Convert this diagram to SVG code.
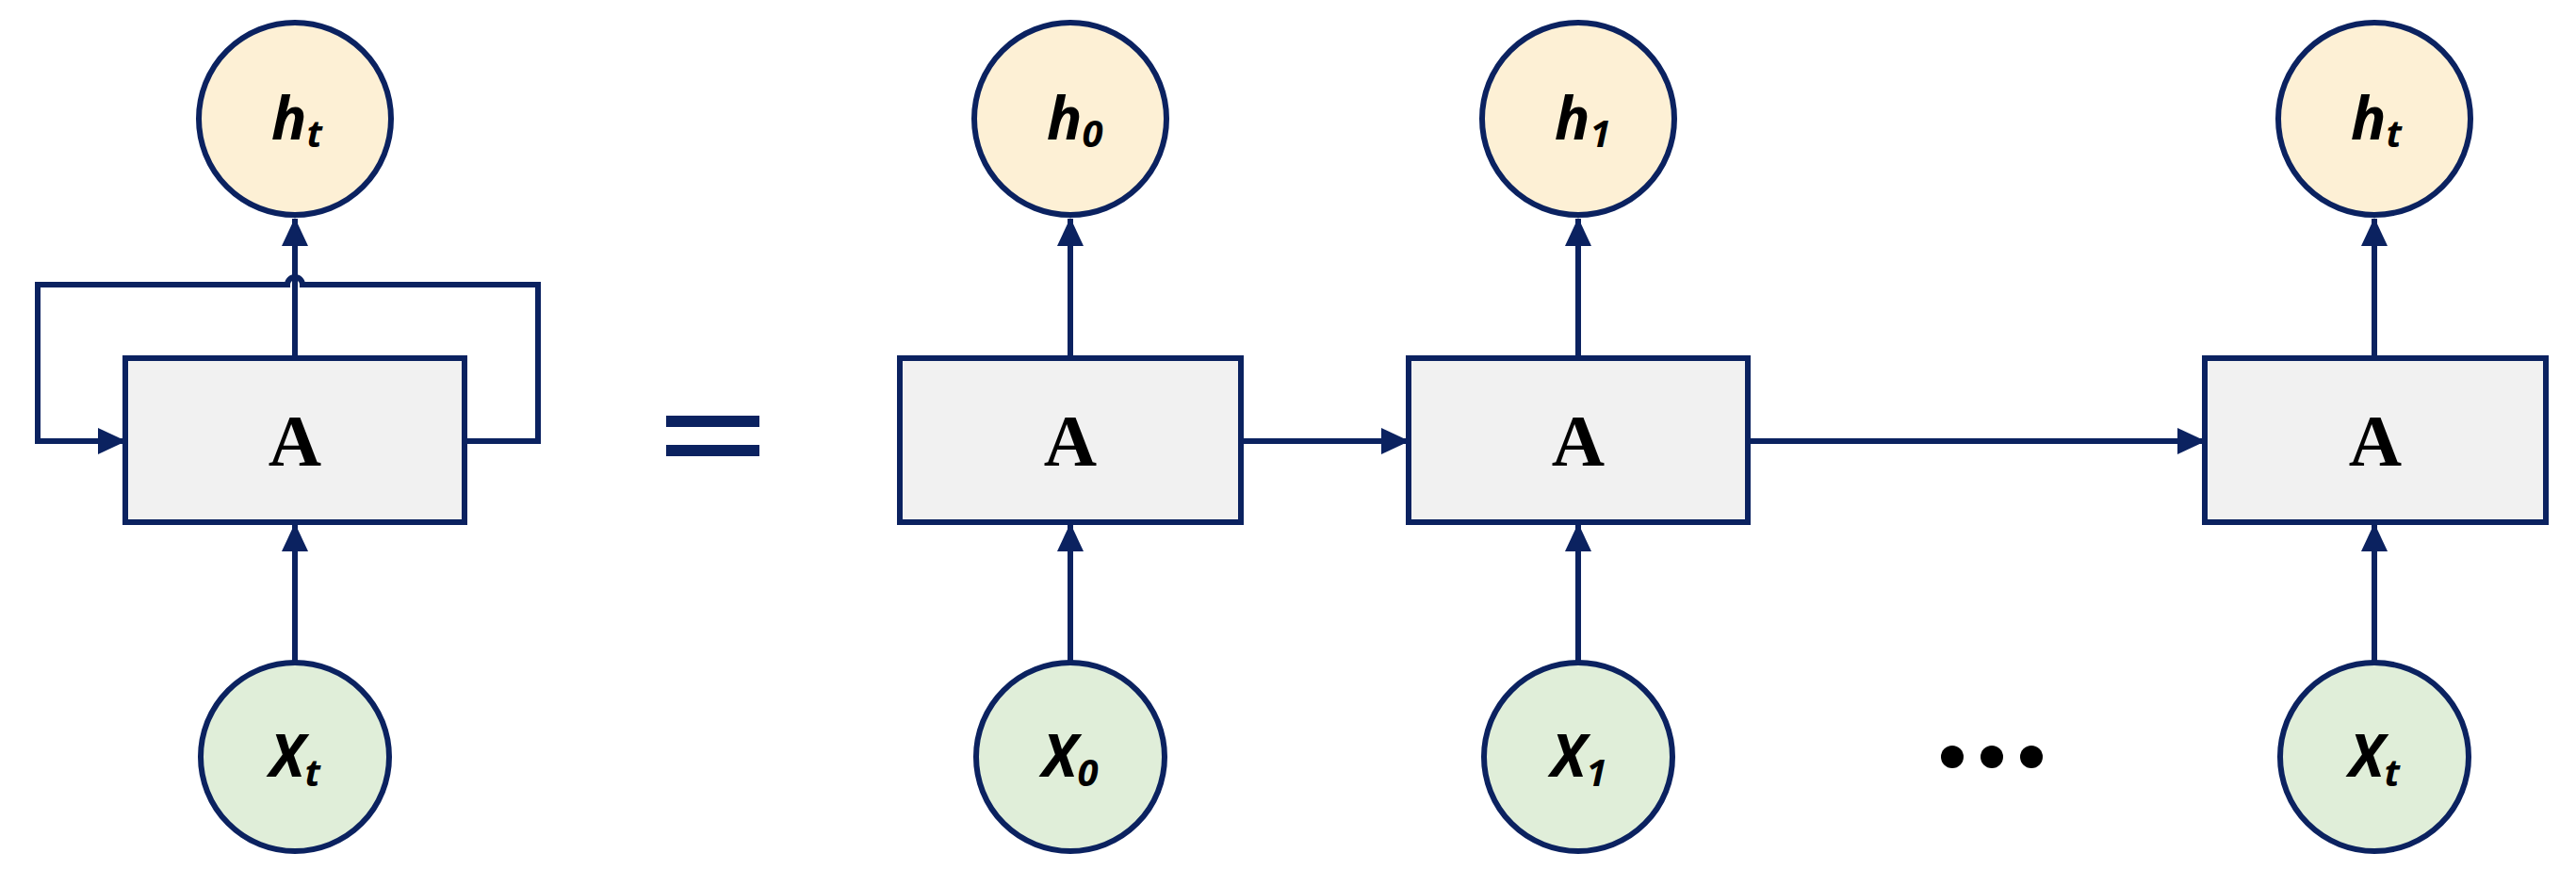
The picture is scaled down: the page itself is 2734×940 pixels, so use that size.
<svg xmlns="http://www.w3.org/2000/svg" width="2734" height="940" viewBox="0 0 2734 940">
<style>
.ln{stroke:#0b2260;stroke-width:6;fill:none}
.h{fill:#fdf0d5;stroke:#0b2260;stroke-width:6}
.x{fill:#e0eed9;stroke:#0b2260;stroke-width:6}
.b{fill:#f1f1f1;stroke:#0b2260;stroke-width:6}
.lab{font-family:"Open Sans","DejaVu Sans",sans-serif;font-weight:bold;font-style:italic;font-size:62px;fill:#000}
.sub{font-size:40px}
.A{font-family:"Liberation Serif",serif;font-weight:bold;font-size:78px;fill:#000;text-anchor:middle}
</style>
<defs>
<marker id="a" viewBox="0 0 30 28" refX="29" refY="14" markerWidth="30" markerHeight="28" markerUnits="userSpaceOnUse" orient="auto"><path d="M0,0 L30,14 L0,28 z" fill="#0b2260"/></marker></defs>
<g id="connectors">
<path class="ln" d="M313,380 V232" marker-end="url(#a)"/>
<path class="ln" d="M493,468 H571 V302 H321 A8,8 0 0 0 305,302 H40 V468 H133" marker-end="url(#a)"/>
<path class="ln" d="M313,703 V556" marker-end="url(#a)"/>
<path class="ln" d="M1136,380 V232" marker-end="url(#a)"/>
<path class="ln" d="M1136,703 V556" marker-end="url(#a)"/>
<path class="ln" d="M1675,380 V232" marker-end="url(#a)"/>
<path class="ln" d="M1675,703 V556" marker-end="url(#a)"/>
<path class="ln" d="M2520,380 V232" marker-end="url(#a)"/>
<path class="ln" d="M2520,703 V556" marker-end="url(#a)"/>
<path class="ln" d="M1319,468 H1495" marker-end="url(#a)"/>
<path class="ln" d="M1855,468 H2340" marker-end="url(#a)"/>
</g>
<g id="eq"><rect x="707" y="441" width="99" height="12" fill="#0b2260"/><rect x="707" y="472" width="99" height="12" fill="#0b2260"/></g>
<g id="dots" fill="#000"><circle cx="2072" cy="803" r="12"/><circle cx="2114" cy="803" r="12"/><circle cx="2156" cy="803" r="12"/></g>
<g id="ht0"><circle class="h" cx="313" cy="126" r="102"/><text class="lab" x="288" y="148">h<tspan class="sub" dy="8">t</tspan></text></g>
<g id="A0"><rect class="b" x="133" y="380" width="360" height="174"/><text class="A" x="313" y="494">A</text></g>
<g id="xt0"><circle class="x" cx="313" cy="803" r="100"/><text class="lab" x="286" y="824">X<tspan class="sub" dy="10">t</tspan></text></g>
<g id="h0"><circle class="h" cx="1136" cy="126" r="102"/><text class="lab" x="1111" y="148">h<tspan class="sub" dy="8">0</tspan></text></g>
<g id="A1"><rect class="b" x="955" y="380" width="362" height="174"/><text class="A" x="1136" y="494">A</text></g>
<g id="x0"><circle class="x" cx="1136" cy="803" r="100"/><text class="lab" x="1106" y="824">X<tspan class="sub" dy="10">0</tspan></text></g>
<g id="h1"><circle class="h" cx="1675" cy="126" r="102"/><text class="lab" x="1650" y="148">h<tspan class="sub" dy="8">1</tspan></text></g>
<g id="A2"><rect class="b" x="1495" y="380" width="360" height="174"/><text class="A" x="1675" y="494">A</text></g>
<g id="x1"><circle class="x" cx="1675" cy="803" r="100"/><text class="lab" x="1646" y="824">X<tspan class="sub" dy="10">1</tspan></text></g>
<g id="ht"><circle class="h" cx="2520" cy="126" r="102"/><text class="lab" x="2495" y="148">h<tspan class="sub" dy="8">t</tspan></text></g>
<g id="A3"><rect class="b" x="2340" y="380" width="362" height="174"/><text class="A" x="2521" y="494">A</text></g>
<g id="xt"><circle class="x" cx="2520" cy="803" r="100"/><text class="lab" x="2493" y="824">X<tspan class="sub" dy="10">t</tspan></text></g>
</svg>
